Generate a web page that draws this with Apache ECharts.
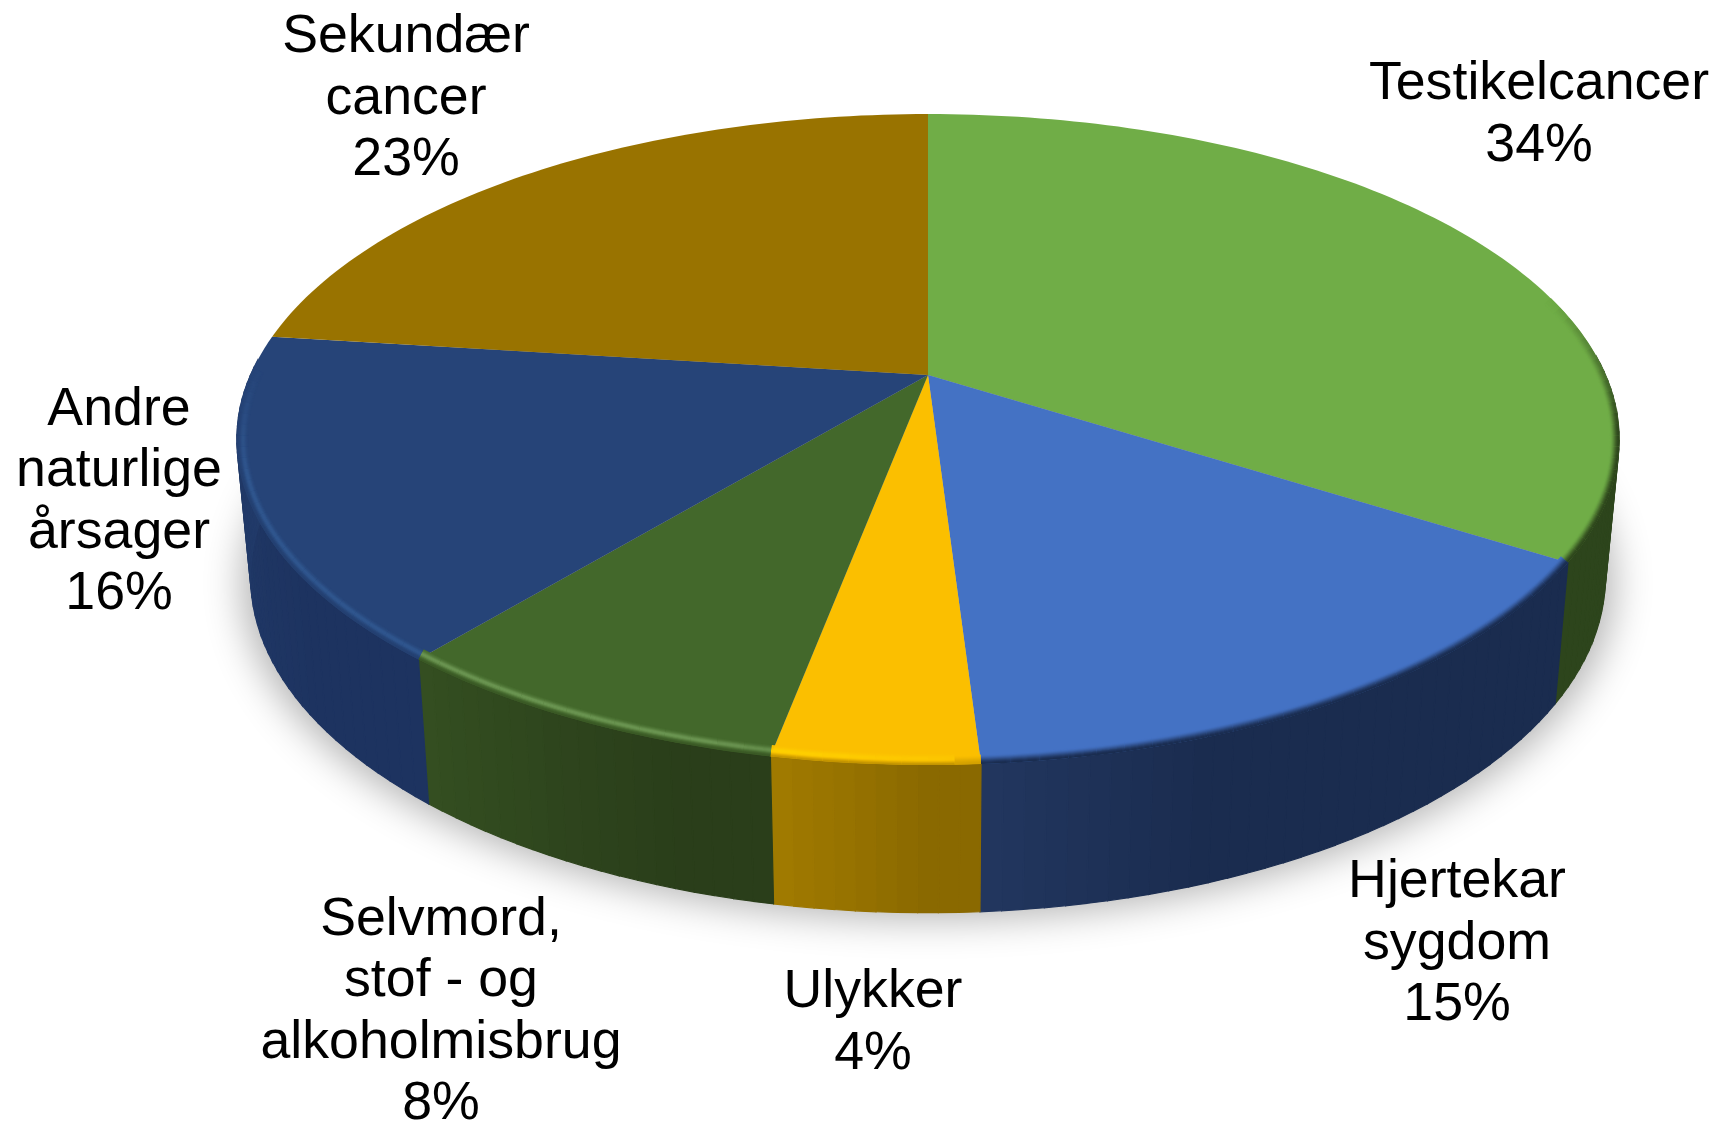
<!DOCTYPE html>
<html>
<head>
<meta charset="utf-8">
<style>html,body{margin:0;padding:0;background:#fff}#c{width:1716px;height:1123px}</style>
<script src="https://cdn.jsdelivr.net/npm/echarts@6/dist/echarts.min.js"></script>
</head>
<body>
<div id="c"></div>
<script>
// Data
const categories = ['Testikelcancer', 'Hjertekar\nsygdom', 'Ulykker', 'Selvmord,\nstof - og\nalkoholmisbrug', 'Andre\nnaturlige\nårsager', 'Sekundær\ncancer'];
const values = [34, 15, 4, 8, 16, 23];

// Style
const topColors = ['#70AD47', '#4472C4', '#FBBF00', '#43682B', '#264478', '#997300'];
const highlightColors = ['#70AD47', '#4472C4', '#FFD400', '#6B9552', '#30578F', '#997300'];
const sideLeft  = ['#2D451C', '#22375F', '#A27B00', '#344F21', '#233D6C', '#6B5100'];
const sideRight = ['#2D451C', '#1A2C4F', '#8A6900', '#2A3E1A', '#1D3360', '#6B5100'];
const sideFade = [1, 0.4, 1, 1, 1, 1];
const labelX = [1539, 1457, 873, 441, 119, 406];
const labelY = [115, 944, 1023, 1012, 502, 99];

// Projection of the tilted disc (perspective circle)
const CX = 928, CY = 375, RX = 677.5, RY = 312.6, K = 0.198;
const BOTTOM_CY = 510.5, BOTTOM_SX = 0.98, BOTTOM_SY = 1.032;
const total = values.reduce((a, b) => a + b, 0);

function topPt(t) {
  const d = 1 + K * Math.cos(t);
  return [RX * Math.sin(t) / d, -RY * Math.cos(t) / d];
}
const T = t => { const p = topPt(t); return [CX + p[0], CY + p[1]]; };
const B = t => { const p = topPt(t); return [CX + BOTTOM_SX * p[0], BOTTOM_CY + BOTTOM_SY * p[1]]; };
function inset(t, d) {
  const a = T(t - 0.002), b = T(t + 0.002), p = T(t);
  let nx = b[1] - a[1], ny = -(b[0] - a[0]);
  const l = Math.hypot(nx, ny); nx /= l; ny /= l;
  return [p[0] - nx * d, p[1] - ny * d];
}
function hex(c) { return [1, 3, 5].map(i => parseInt(c.substr(i, 2), 16)); }
function mix(c1, c2, t) {
  const a = hex(c1), b = hex(c2);
  return '#' + a.map((v, i) => Math.round(v + (b[i] - v) * t).toString(16).padStart(2, '0')).join('');
}
function arc(a0, a1, fn) {
  const n = Math.max(2, Math.ceil((a1 - a0) / 0.02)), out = [];
  for (let i = 0; i <= n; i++) out.push(fn(a0 + (a1 - a0) * i / n));
  return out;
}
const clamp = v => Math.max(0, Math.min(1, v));
const deg = Math.PI / 180;

function renderItem(params, api) {
  const i = params.dataIndex;
  let before = 0;
  for (let k = 0; k < i; k++) before += values[k];
  const v = api.value(0);
  const a0 = before / total * 2 * Math.PI;
  const a1 = (before + v) / total * 2 * Math.PI;
  const kids = [];

  if (i === 0) {
    // soft ground shadow: the shape sits off-canvas, only its blurred shadow lands on the page
    const SHIFT = 3000;
    const pts = arc(0, 2 * Math.PI, t => {
      const p = B(t);
      return [CX + (p[0] - CX) * 1.012 - SHIFT, p[1] + 6];
    });
    kids.push({ type: 'polygon', z2: 0, shape: { points: pts },
      style: { fill: '#000', shadowBlur: 38, shadowColor: 'rgba(0,0,0,0.30)', shadowOffsetX: SHIFT, shadowOffsetY: 0 } });
  }

  // rim side, as narrow vertical facets (angle grows right to left on the near side);
  // only the near part of the disc shows a side
  const facets = Math.max(2, Math.ceil((a1 - a0) / (1.5 * deg)));
  for (let s = 0; s < facets; s++) {
    const t0 = a0 + (a1 - a0) * s / facets;
    const t1 = a0 + (a1 - a0) * (s + 1) / facets;
    if (t1 < 88 * deg || t0 > 272 * deg) continue;
    const col = mix(sideLeft[i], sideRight[i], clamp((facets - s - 0.5) / facets / (0.75 * sideFade[i])));
    kids.push({ type: 'polygon', z2: 2, shape: { points: [T(t0), T(t1), B(t1), B(t0)] },
      style: { fill: col, stroke: col, lineWidth: 1.2 } });
  }

  // top face
  const face = [[CX, CY]].concat(arc(a0, a1, T));
  kids.push({ type: 'polygon', z2: 10, shape: { points: face }, style: { fill: topColors[i] } });

  // bevel along the rim, drawn as opaque colour bands
  const layers = 12;
  const segs = Math.max(2, Math.ceil((a1 - a0) / (2 * deg)));
  for (let s = 0; s < segs; s++) {
    const t0 = a0 + (a1 - a0) * s / segs;
    const t1 = a0 + (a1 - a0) * (s + 1) / segs;
    const tm = (t0 + t1) / 2, dg = tm / deg;
    const dark = clamp((dg - 75) / 25) * clamp((178 - dg) / 2);
    const fadeEnd = clamp((272 - dg) / 20);
    const light = clamp((dg - 170) / 25) * fadeEnd;
    if (dark <= 0 && fadeEnd <= 0) continue;
    for (let L = layers; L >= 0; L--) {
      const d = L + 0.5;
      let col;
      if (dark > 0) {
        const w = 1 - clamp(d / 9);
        if (w <= 0) continue;
        col = mix(topColors[i], sideRight[i], dark * w * w * (3 - 2 * w));
      } else {
        if (dg < 170) continue;
        const peak = Math.exp(-Math.pow((d - 6) / 3, 2));
        const edge = d < 4 ? (4 - d) / 4 : 0;
        if (peak < 0.05 && edge === 0) continue;
        col = mix(mix(topColors[i], highlightColors[i], light * peak), sideLeft[i], edge * fadeEnd * 0.7);
      }
      kids.push({ type: 'polyline', z2: 20 + (layers - L),
        shape: { points: [inset(t0, d), inset(tm, d), inset(t1, d)] },
        style: { stroke: col, lineWidth: 1.6, fill: null, lineCap: 'butt' } });
    }
  }

  // label
  kids.push({ type: 'text', z2: 60, x: labelX[i], y: labelY[i],
    style: { text: categories[i] + '\n' + v + '%', fill: '#000', align: 'center', verticalAlign: 'middle',
      font: '53.7px "Liberation Sans", Arial, sans-serif', lineHeight: 61.4 } });

  return { type: 'group', children: kids };
}

const chart = echarts.init(document.getElementById('c'), null, { renderer: 'canvas' });
chart.setOption({
  animation: false,
  backgroundColor: '#ffffff',
  series: [{
    type: 'custom',
    coordinateSystem: 'none',
    renderItem: renderItem,
    silent: true,
    data: categories.map((n, i) => ({ name: n, value: [values[i]] }))
  }]
});
</script>
</body>
</html>
